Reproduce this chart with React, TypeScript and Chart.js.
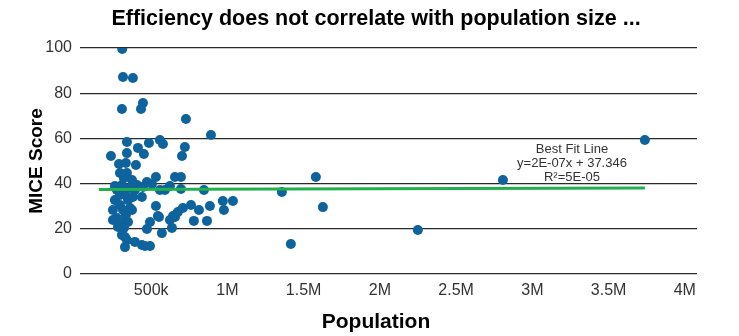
import React, { useEffect, useRef } from "react";
import { Chart, registerables } from "chart.js";

Chart.register(...registerables);

// Population (thousands) of each city and its MICE score
const populationK = [
  310, 315, 380, 446, 433, 308, 728, 892, 341, 485, 557, 577, 413, 721, 341, 236, 452, 702,
  289, 400, 295, 341, 321, 374, 531, 656, 695, 505, 695, 846, 275, 328, 393, 439, 531, 708,
  761, 813, 885, 970, 1036, 977, 544, 643, 623, 780, 866, 656, 636, 675, 551, 492, 472, 570,
  275, 315, 361, 282, 308, 341, 328, 393, 439, 492, 459, 328, 3738, 2807, 2249, 1626, 1580,
  1416, 1357, 262, 295, 348, 380, 249, 295, 334, 374, 249, 295, 348, 321, 361, 308, 407, 262,
  446, 557, 472, 590, 623, 334,
];
const miceScore = [
  99.6, 87.2, 86.7, 75.7, 73.0, 73.0, 68.6, 61.5, 58.4, 58.0, 59.3, 57.5, 55.8, 56.2, 53.5, 52.2,
  53.1, 52.2, 48.7, 48.2, 44.7, 44.7, 42.5, 41.6, 42.9, 42.9, 42.9, 39.8, 37.6, 37.2, 37.2, 35.0,
  37.2, 34.1, 30.1, 29.2, 30.5, 28.3, 30.1, 32.3, 32.3, 28.3, 25.7, 25.7, 23.9, 23.5, 23.5, 25.2,
  20.4, 27.4, 25.2, 23.0, 19.9, 18.1, 24.8, 28.3, 29.2, 20.8, 17.3, 15.0, 11.9, 14.2, 12.8, 12.4,
  12.4, 16.4, 59.3, 41.6, 19.5, 29.6, 42.9, 13.3, 36.3, 32.7, 35.0, 32.7, 34.1, 28.3, 30.5, 26.1,
  28.3, 23.9, 23.0, 23.0, 20.4, 38.1, 39.4, 39.4, 38.9, 38.5, 37.2, 40.7, 37.2, 38.9, 49.1,
];

// Best fit line end points (population, score)
const trendX = [157000, 3738000];
const trendY = [37.38, 38.09];

const xTickValues = [500000, 1000000, 1500000, 2000000, 2500000, 3000000, 3500000, 4000000];
const xTickLabels = ["500k", "1M", "1.5M", "2M", "2.5M", "3M", "3.5M", "4M"];
const yTickValues = [0, 20, 40, 60, 80, 100];

const titleText = "Efficiency does not correlate with population size ...";
const xTitle = "Population";
const yTitle = "MICE Score";
const fitLabelLines = ["Best Fit Line", "y=2E-07x + 37.346", "R\u00B2=5E-05"];
const fitLabelX = 3260000;
const fitLabelY = [55.3, 49.1, 42.9];

const FONT = "'Liberation Sans', Arial, Helvetica, sans-serif";
const DOT = "#0e639c";
const GREEN = "#22b04b";

export default function App() {
  const ref = useRef<HTMLCanvasElement | null>(null);

  useEffect(() => {
    const canvas = ref.current;
    if (!canvas) return;

    const textPlugin = {
      id: "texts",
      afterDraw(chart: any) {
        const ctx = chart.ctx;
        const xs = chart.scales.x;
        const ys = chart.scales.y;
        ctx.save();
        ctx.fillStyle = "#000";
        ctx.textAlign = "center";
        ctx.textBaseline = "middle";
        ctx.font = `bold 21.5px ${FONT}`;
        ctx.fillText(titleText, 376, 19);
        ctx.font = `bold 21px ${FONT}`;
        ctx.fillText(xTitle, 376, 322);
        ctx.fillStyle = "#333";
        ctx.font = `13px ${FONT}`;
        fitLabelLines.forEach((t, i) => {
          ctx.fillText(t, xs.getPixelForValue(fitLabelX), ys.getPixelForValue(fitLabelY[i]));
        });
        ctx.restore();
      },
    };

    const chart = new Chart(canvas, {
      type: "scatter",
      data: {
        datasets: [
          {
            type: "line",
            data: trendX.map((x, i) => ({ x, y: trendY[i] })),
            borderColor: GREEN,
            borderWidth: 3,
            pointRadius: 0,
            fill: false,
            order: 0,
          } as any,
          {
            data: populationK.map((p, i) => ({ x: p * 1000, y: miceScore[i] })),
            backgroundColor: DOT,
            borderWidth: 0,
            pointRadius: 5,
            order: 1,
          },
        ],
      },
      options: {
        responsive: false,
        animation: false,
        layout: { padding: { top: 48, right: 42, left: 0, bottom: 0 } },
        plugins: {
          legend: { display: false },
          tooltip: { enabled: false },
          title: { display: false },
        },
        scales: {
          x: {
            type: "linear",
            min: 33000,
            max: 4080000,
            grid: { display: false, drawTicks: false },
            border: { display: false },
            afterBuildTicks: (s: any) => {
              s.ticks = xTickValues.map((v) => ({ value: v }));
            },
            afterFit: (s: any) => {
              s.height = 62;
            },
            ticks: {
              padding: 7,
              color: "#333",
              font: { family: FONT, size: 16 },
              maxRotation: 0,
              autoSkip: false,
              callback: (v: any) => {
                const i = xTickValues.indexOf(Number(v));
                return i >= 0 ? xTickLabels[i] : "";
              },
            },
          },
          y: {
            min: 0,
            max: 100,
            afterBuildTicks: (s: any) => {
              s.ticks = yTickValues.map((v) => ({ value: v }));
            },
            afterFit: (s: any) => {
              s.width = 80;
            },
            grid: { color: "#2a2a2a", lineWidth: 1.3, drawTicks: false },
            border: { display: false },
            ticks: {
              padding: 8,
              color: "#333",
              font: { family: FONT, size: 16 },
            },
            title: {
              display: true,
              text: yTitle,
              color: "#000",
              font: { family: FONT, size: 19, weight: "bold" },
              padding: { top: 25, bottom: 0 },
            },
          },
        },
      },
      plugins: [textPlugin],
    });

    return () => chart.destroy();
  }, []);

  return (
    <div style={{ position: "fixed", left: 0, top: 0, width: 739, height: 336, background: "#fff" }}>
      <canvas ref={ref} width={739} height={336} style={{ width: 739, height: 336 }} />
    </div>
  );
}
